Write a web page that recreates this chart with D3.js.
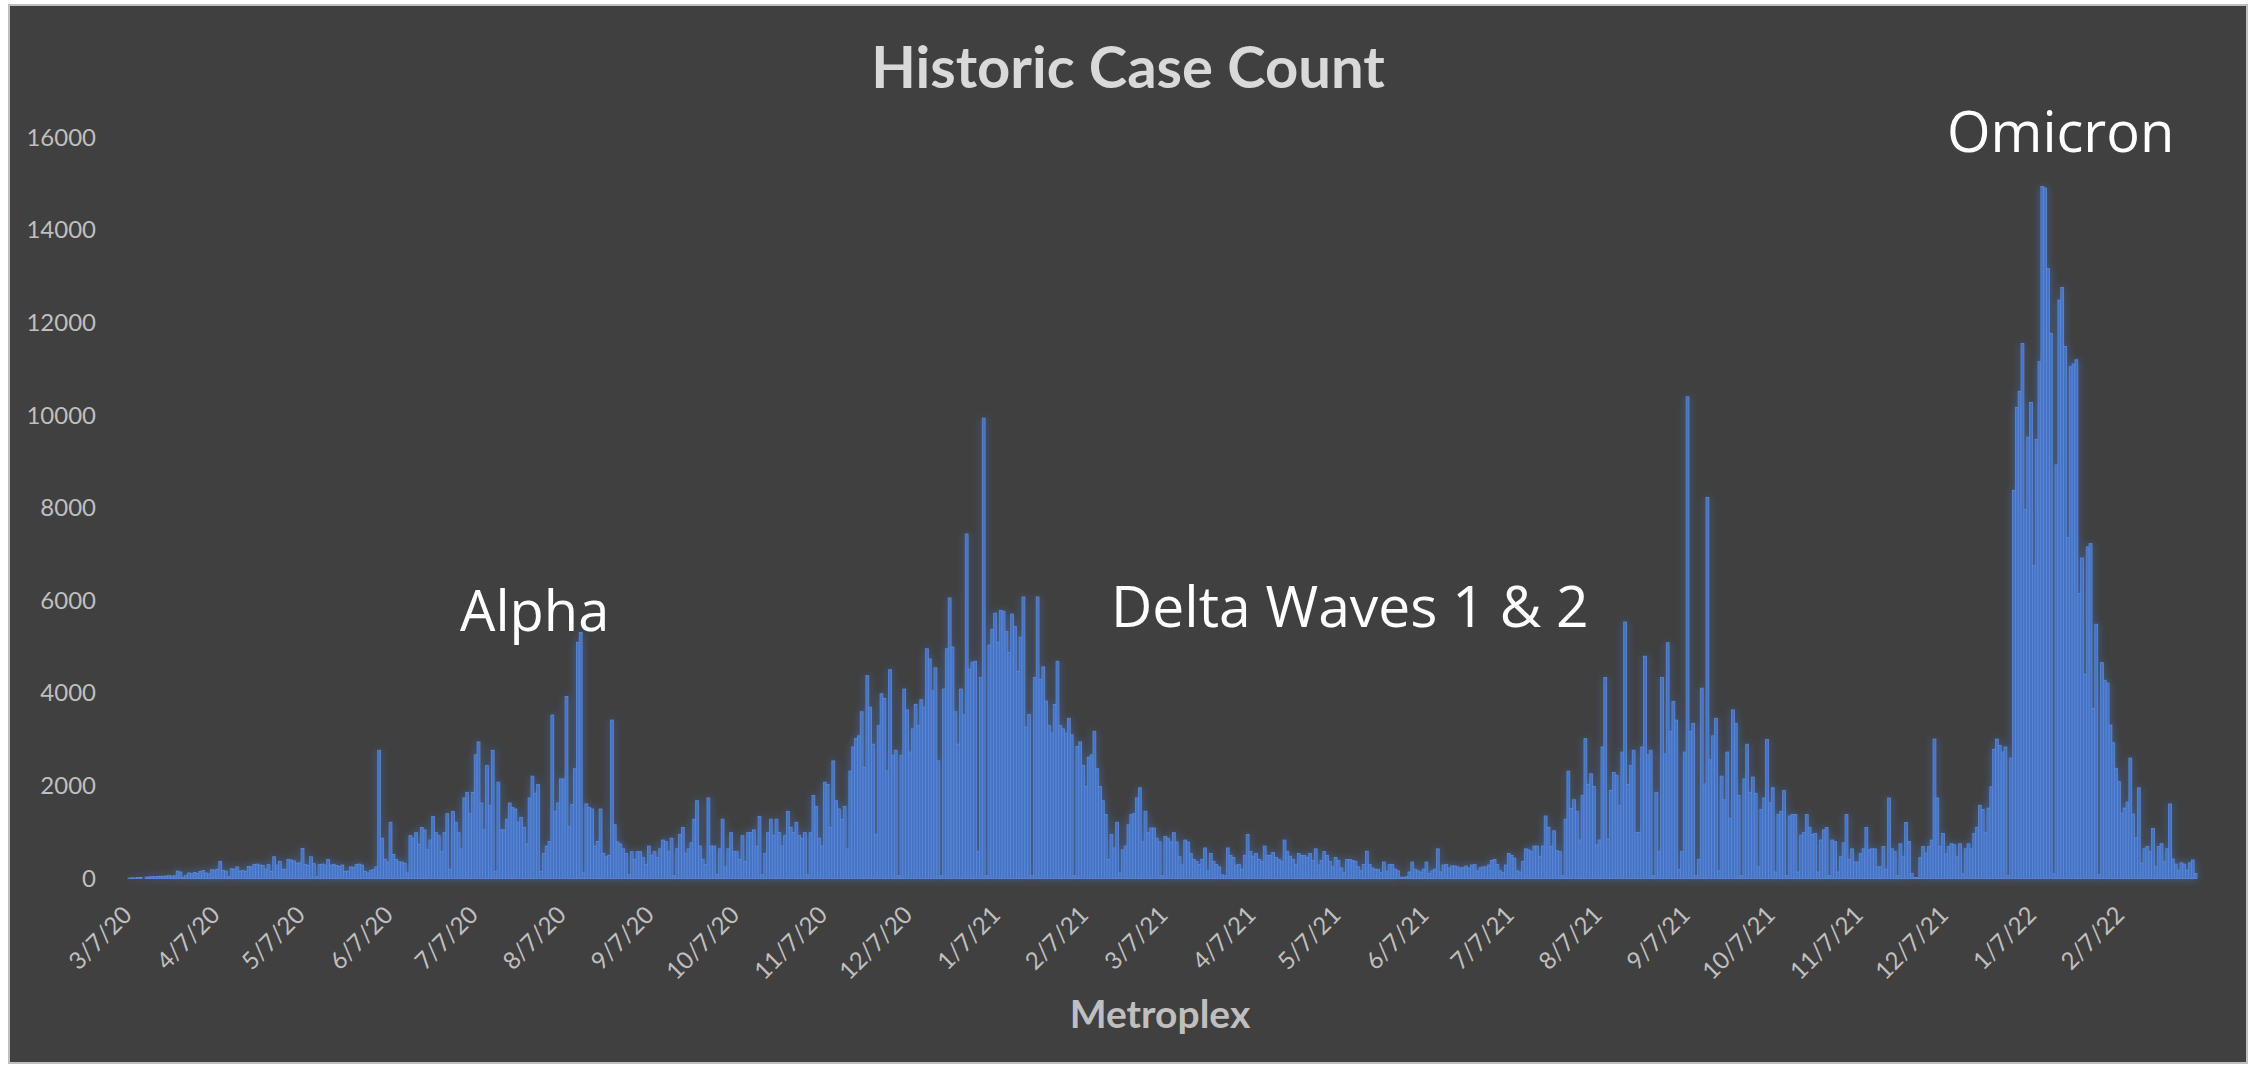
<!DOCTYPE html>
<html>
<head>
<meta charset="utf-8">
<title>Historic Case Count</title>
<script src="https://d3js.org/d3.v7.min.js"></script>
<style>
  body { margin: 0; background: #ffffff; }
  svg { display: block; }
</style>
</head>
<body>
<svg id="chart" width="2255" height="1068"></svg>
<script>
// daily new cases, one array per month, first value is 3/7/20
var mar20 = [10,15,12,20,25,0,30,35,40,38,45,50,48,55,60,52,58,160,140,30,70,120,100,130,110];
var apr20 = [150,170,120,100,190,180,200,370,170,160,40,210,200,250,160,170,150,260,250,300,310,290,280,200,300,150,470,290,370,200];
var may20 = [190,410,400,380,330,340,650,300,280,470,320,40,300,310,290,410,290,300,280,260,290,150,160,250,240,300,310,290,150,120,170];
var jun20 = [190,250,2770,870,410,355,1215,520,410,360,355,330,120,925,870,990,740,1100,1050,620,830,1340,990,925,580,990,1400,200,1450,1215];
var jul20 = [990,640,1740,1860,1400,1860,2670,2950,1630,1050,2440,1570,2770,150,2080,1050,1050,1280,1630,1530,1500,1215,1320,1100,745,1740,2210,1840,2030,150,540];
var aug20 = [700,800,3530,1450,1630,2150,2150,3930,1120,1600,2370,5100,5310,120,1610,1530,1500,700,800,1500,540,470,500,3420,1160,790,745,640,540,80,580];
var sep20 = [410,580,580,450,300,700,500,580,450,640,830,800,580,870,60,640,950,1100,540,640,770,1280,1680,700,410,300,1740,700,700,90];
var oct20 = [640,1280,250,640,990,580,580,410,925,370,990,990,1050,700,1340,80,540,990,1280,925,1280,990,700,925,1450,1100,990,1215,925,870,990];
var nov20 = [80,990,1795,1555,870,700,2080,2030,1100,2540,1680,1500,1280,1555,640,2320,2840,3020,3080,3600,2400,4380,3700,2900,950,3300,3990,3890,2320,4510];
var dec20 = [2660,2770,60,2660,4090,3640,2730,3230,3760,3300,3860,3700,4960,4740,4050,4550,2540,60,4090,4960,6060,5000,3600,2900,4090,3530,7440,4520,4670,4690,580];
var jan21 = [4340,9940,60,5040,5380,5730,5100,5790,5770,5330,4880,5710,5440,4470,5210,6080,3270,3540,60,4340,6080,4300,4570,3830,3300,3140,3760,4690,3300,3230,3140];
var feb21 = [3460,3100,60,2850,2950,2440,1985,2620,2670,3180,2370,1985,1680,1380,410,950,660,1215,120,620,700,1160,1380,1400,1740,1960,790,1450];
var mar21 = [990,1090,1090,870,790,60,910,870,790,990,790,470,290,830,790,540,410,370,300,410,660,165,540,370,300,250,80,60,660,500,455];
var apr21 = [290,300,200,500,950,580,480,540,410,370,700,500,500,560,455,410,370,830,580,480,410,300,540,500,500,455,540,390,640,290];
var may21 = [390,580,500,370,250,455,390,225,125,410,410,390,370,250,165,300,590,300,225,200,190,125,355,150,300,300,200,165,30,20,40];
var jun21 = [140,355,200,165,140,200,355,110,165,200,640,140,290,300,225,270,270,250,225,240,270,225,290,300,165,230,250,250,290,390];
var jul21 = [410,300,165,125,290,540,500,440,165,140,370,640,620,580,700,700,470,700,1350,1100,690,1030,600,580,60,1280,2320,1510,1700,1450,830];
var aug21 = [1795,3020,2030,2260,1985,720,830,2840,4340,850,1900,2290,2230,1570,2730,5540,2030,2440,2770,990,990,2840,4800,2670,2770,60,1860,580,4340,2690,5090];
var sep21 = [3180,3820,3420,190,580,2730,10400,3180,3350,60,410,4110,2040,8230,2560,3080,3460,165,2210,1700,2730,1300,3640,3350,1795,60,2150,2900,1860,2190];
var oct21 = [1840,250,1490,1740,3000,1630,1960,140,1380,1450,1900,60,1350,1380,1380,140,935,990,1380,1100,950,970,140,830,1050,1100,60,830,800,140,470];
var nov21 = [770,1380,410,640,355,355,540,640,1100,620,640,640,250,250,690,200,1740,640,580,60,750,470,1210,800,110,20,20,450,690,550];
var dec21 = [690,830,3010,1740,690,970,530,690,750,730,470,750,100,640,750,640,970,1100,1580,1490,990,1520,1980,2790,3010,2870,2730,2840,60,2600,8380];
var jan22 = [10170,10520,11550,7970,9530,10280,6760,9480,11160,14940,14910,13170,11770,100,8930,12490,12760,11490,7360,11050,11110,11200,6150,6920,4410,7160,7230,3670,5490,80,4660];
var feb22 = [4280,4220,3310,2930,2380,2090,1410,1520,1650,2600,1390,880,1960,330,640,690,580,1080,250,690,750,360,640,1610,420,310,180,340];
var mar22 = [310,180,340,400,110];

var yTicks = [0, 2000, 4000, 6000, 8000, 10000, 12000, 14000, 16000];
var tickLabels = ["3/7/20","4/7/20","5/7/20","6/7/20","7/7/20","8/7/20","9/7/20","10/7/20","11/7/20","12/7/20",
                  "1/7/21","2/7/21","3/7/21","4/7/21","5/7/21","6/7/21","7/7/21","8/7/21","9/7/21","10/7/21",
                  "11/7/21","12/7/21","1/7/22","2/7/22"];

var cases = [].concat(mar20, apr20, may20, jun20, jul20, aug20, sep20, oct20, nov20, dec20, jan21, feb21,
                      mar21, apr21, may21, jun21, jul21, aug21, sep21, oct21, nov21, dec21, jan22, feb22, mar22);

var startDate = new Date(2020, 2, 7);
var fmt = d3.timeFormat("%-m/%-d/%y");
var data = cases.map(function (v, i) {
    return { label: fmt(d3.timeDay.offset(startDate, i)), value: v };
});

var svg = d3.select("#chart");

// chart area
svg.append("rect")
    .attr("x", 9).attr("y", 5)
    .attr("width", 2238).attr("height", 1058)
    .attr("fill", "#404040")
    .attr("stroke", "#bfbfbf").attr("stroke-width", 2);

var defs = svg.append("defs");
var glow = defs.append("filter").attr("id", "glow")
    .attr("x", "-2%").attr("y", "-5%").attr("width", "104%").attr("height", "110%");
glow.append("feGaussianBlur").attr("in", "SourceAlpha").attr("stdDeviation", 4.5).attr("result", "blur");
glow.append("feFlood").attr("flood-color", "#4472C4").attr("flood-opacity", 0.65);
glow.append("feComposite").attr("in2", "blur").attr("operator", "in").attr("result", "halo");
var merge = glow.append("feMerge");
merge.append("feMergeNode").attr("in", "halo");
merge.append("feMergeNode").attr("in", "SourceGraphic");

var x = d3.scaleBand()
    .domain(data.map(function (d) { return d.label; }))
    .range([128, 2197])
    .padding(0);

var y = d3.scaleLinear().domain([0, 16000]).range([878.5, 137.5]);

svg.append("g")
    .attr("filter", "url(#glow)")
    .selectAll("rect")
    .data(data)
    .join("rect")
    .attr("x", function (d) { return x(d.label); })
    .attr("y", function (d) { return y(d.value); })
    .attr("width", x.bandwidth())
    .attr("height", function (d) { return y(0) - y(d.value); })
    .attr("fill", "#4472C4")
    .attr("stroke", "#5b8bd8")
    .attr("stroke-width", 0.8);

// y axis
var yAxis = svg.append("g")
    .attr("transform", "translate(105,0)")
    .call(d3.axisLeft(y).tickValues(yTicks).tickSize(0).tickPadding(9).tickFormat(d3.format("d")));
yAxis.select(".domain").remove();
yAxis.attr("font-family", "Lato").attr("font-size", 24);
yAxis.selectAll("text").attr("fill", "#bfbfbf");

// x axis, labels on the 7th of each month
var xAxis = svg.append("g")
    .attr("transform", "translate(0," + y(0) + ")")
    .call(d3.axisBottom(x).tickValues(tickLabels).tickSize(0));
xAxis.select(".domain").remove();
xAxis.attr("font-family", "Lato").attr("font-size", 24);
xAxis.selectAll("text")
    .attr("y", 0).attr("dy", 0)
    .attr("text-anchor", "end")
    .attr("transform", "translate(4,38) rotate(-45)")
    .attr("fill", "#bfbfbf");

// titles
svg.append("text")
    .attr("x", 1128).attr("y", 88)
    .attr("text-anchor", "middle")
    .attr("font-family", "Lato").attr("font-weight", "bold").attr("font-size", 58)
    .attr("fill", "#d9d9d9")
    .text("Historic Case Count");

svg.append("text")
    .attr("x", 1160).attr("y", 1028)
    .attr("text-anchor", "middle")
    .attr("font-family", "Lato").attr("font-weight", "bold").attr("font-size", 39)
    .attr("fill", "#bfbfbf")
    .text("Metroplex");

// wave notes
var notes = [
    { text: "Alpha", x: 460, y: 631, size: 56 },
    { text: "Delta Waves 1 & 2", x: 1111, y: 627, size: 57 },
    { text: "Omicron", x: 1947, y: 152, size: 56 }
];
svg.append("g").selectAll("text")
    .data(notes)
    .join("text")
    .attr("x", function (d) { return d.x; })
    .attr("y", function (d) { return d.y; })
    .attr("font-family", "Open Sans").attr("font-size", function (d) { return d.size; })
    .attr("fill", "#ffffff")
    .text(function (d) { return d.text; });
</script>
</body>
</html>
